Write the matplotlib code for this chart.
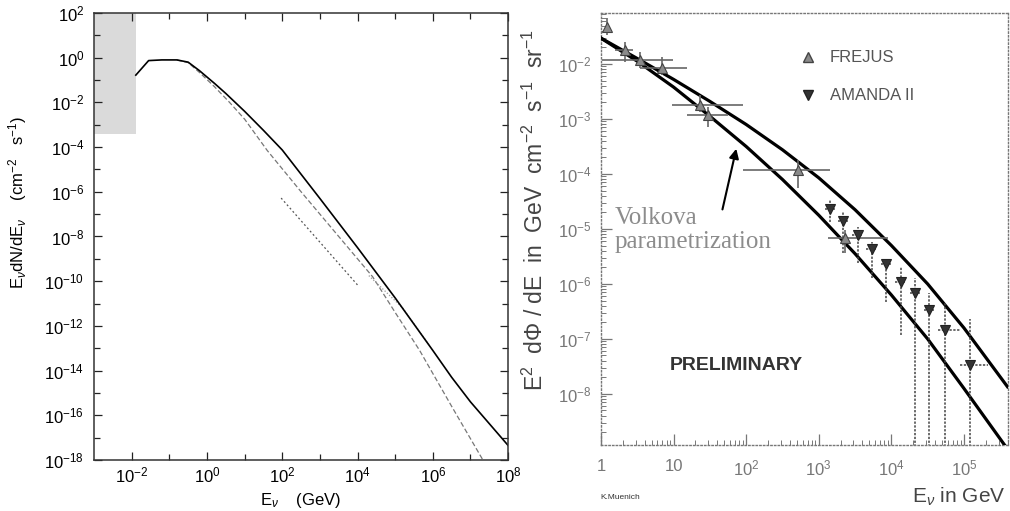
import numpy as np
import matplotlib
matplotlib.use('Agg')
import matplotlib.pyplot as plt
from matplotlib.ticker import FixedLocator, FixedFormatter, LogLocator, NullFormatter

plt.rcParams['font.family'] = ['Liberation Sans', 'DejaVu Sans']
plt.rcParams['mathtext.fontset'] = 'custom'
plt.rcParams['mathtext.rm'] = 'Liberation Sans'
plt.rcParams['mathtext.it'] = 'Liberation Sans:italic'
plt.rcParams['mathtext.bf'] = 'Liberation Sans:bold'

# ---- left panel: atmospheric neutrino spectrum (log10 values)
total_logE = [-1.89, -1.55, -1.2, -0.8, -0.5, -0.2, 0.2, 0.5, 1.0, 1.5, 2.0, 3.0, 4.0, 5.0, 6.0, 6.5, 7.0, 8.0]
total_logF = [-0.78, -0.13, -0.1, -0.1, -0.2, -0.58, -1.15, -1.6, -2.4, -3.25, -4.13, -6.3, -8.5, -10.75, -13.1, -14.3, -15.4, -17.35]
conv_logE = [-0.8, -0.5, -0.2, 0.2, 0.6, 1.0, 1.6, 2.5, 3.5, 4.4, 5.0, 5.65, 6.5, 7.33]
conv_logF = [-0.1, -0.22, -0.66, -1.3, -2.0, -2.75, -4.15, -6.0, -8.0, -9.8, -11.4, -13.1, -15.6, -18.0]
prompt_a_logE = [1.97, 4.0]
prompt_a_logF = [-6.28, -10.17]
prompt_b_logE = [4.3, 5.2, 5.9]
prompt_b_logF = [-9.75, -11.2, -12.85]
shade_E = [1e-3, 1.3e-2]
shade_F = [4e-4, 1e2]

left_xmajor = [1e-2, 1e0, 1e2, 1e4, 1e6, 1e8]
left_xminor = [1e-1, 1e1, 1e3, 1e5, 1e7]
left_ymajor = [10.0 ** k for k in range(2, -19, -2)]
left_yminor = [10.0 ** k for k in range(1, -18, -2)]

# ---- right panel: measured spectra
fr_E = np.array([1.21, 2.14, 3.45, 6.9, 23, 29.7, 516, 2300])
fr_F = np.array([0.047, 0.018, 0.0118, 0.0085, 1.8e-3, 1.18e-3, 1.18e-4, 6.9e-6])
fr_Elo = np.array([1.15, 1.56, 1.03, 3.45, 9.5, 15.3, 90, 1340])
fr_Ehi = np.array([1.27, 2.76, 9.8, 15.3, 90, 56, 1420, 8900])
fr_Flo = np.array([0.034, 0.011, 0.0085, 0.0063, 1.35e-3, 7.1e-4, 5.6e-5, 3.6e-6])
fr_Fhi = np.array([0.069, 0.025, 0.0166, 0.0135, 2.75e-3, 1.66e-3, 1.78e-4, 9.5e-6])

am_E = np.array([1420, 2150, 3470, 5370, 8450, 13500, 21300, 33000, 55000, 120000])
am_F = np.array([2.3e-5, 1.4e-5, 7.8e-6, 4.4e-6, 2.3e-6, 1.1e-6, 6.9e-7, 3.4e-7, 1.45e-7, 3.4e-8])
am_Elo = np.array([1200, 1820, 2900, 4500, 7100, 11300, 18000, 27800, 43600, 87600])
am_Ehi = np.array([1690, 2550, 4100, 6400, 10000, 16000, 25500, 39500, 87600, 214000])
am_Flo = np.array([1.35e-5, 3.6e-6, 2.4e-6, 1.3e-6, 4.7e-7, 1.2e-7, 1e-10, 1e-10, 1e-10, 1e-10])
am_Fhi = np.array([3.4e-5, 2.0e-5, 1.1e-5, 5.8e-6, 2.7e-6, 2.0e-6, 1.3e-6, 6.9e-7, 4.5e-7, 2.3e-7])

volk_hi_logE = [0, 0.5, 1.0, 1.5, 2.0, 2.5, 3.0, 3.5, 4.0, 4.5, 5.0, 5.6]
volk_hi_logF = [-1.53, -1.9, -2.28, -2.68, -3.1, -3.56, -4.07, -4.65, -5.3, -6.0, -6.8, -7.87]
volk_lo_logE = [0, 0.5, 1.0, 1.5, 2.0, 2.5, 3.0, 3.5, 4.0, 4.5, 5.0, 5.56]
volk_lo_logF = [-1.53, -1.95, -2.42, -2.95, -3.5, -4.1, -4.75, -5.45, -6.2, -7.0, -7.9, -8.93]

right_xticks = [1, 10, 1e2, 1e3, 1e4, 1e5]
right_xlabels = ['1', '10', '$10^{2}$', '$10^{3}$', '$10^{4}$', '$10^{5}$']
right_yticks = [1e-2, 1e-3, 1e-4, 1e-5, 1e-6, 1e-7, 1e-8]
right_ylabels = ['$10^{-2}$', '$10^{-3}$', '$10^{-4}$', '$10^{-5}$', '$10^{-6}$', '$10^{-7}$', '$10^{-8}$']

fig = plt.figure(figsize=(10.1, 5.11), dpi=100)

# left panel
ax1 = fig.add_axes([0.0931, 0.0998, 0.41, 0.8748])
ax1.set_xscale('log')
ax1.set_yscale('log')
ax1.set_xlim(1e-3, 1e8)
ax1.set_ylim(1e-18, 1e2)
ax1.fill_between(shade_E, shade_F[0], shade_F[1], facecolor='#dadada', edgecolor='none')
ax1.plot(10 ** np.array(conv_logE), 10 ** np.array(conv_logF), color='#777777', lw=0.9, dashes=(4, 2))
ax1.plot(10 ** np.array(prompt_a_logE), 10 ** np.array(prompt_a_logF), color='#555555', lw=0.9, dashes=(1.5, 2))
ax1.plot(10 ** np.array(prompt_b_logE), 10 ** np.array(prompt_b_logF), color='#999999', lw=0.9, dashes=(1, 1.5))
ax1.plot(10 ** np.array(total_logE), 10 ** np.array(total_logF), color='black', lw=1.2)

ax1.xaxis.set_major_locator(FixedLocator(left_xmajor))
ax1.xaxis.set_minor_locator(FixedLocator(left_xminor))
ax1.yaxis.set_major_locator(FixedLocator(left_ymajor))
ax1.yaxis.set_minor_locator(FixedLocator(left_yminor))
ax1.xaxis.set_minor_formatter(NullFormatter())
ax1.yaxis.set_minor_formatter(NullFormatter())
ax1.tick_params(which='both', direction='in', top=True, right=True, labelsize=12, color='#222222')
ax1.tick_params(which='major', length=6, width=0.9)
ax1.tick_params(which='minor', length=4, width=0.9)
ax1.tick_params(axis='y', pad=7)
ax1.tick_params(axis='x', pad=4)
for sp in ax1.spines.values():
    sp.set_color('#333333')
    sp.set_linewidth(1.1)

fig.text(18 / 1010, 1 - 203 / 511, r'E$_\nu$dN/dE$_\nu$    (cm$^{-2}$   s$^{-1}$)',
         rotation=90, ha='center', va='center', fontsize=12)
fig.text(301 / 1010, 1 - 500 / 511, r'E$_\nu$    (GeV)', ha='center', va='center', fontsize=12)

# right panel
ax2 = fig.add_axes([0.595, 0.1292, 0.403, 0.8454])
ax2.set_xscale('log')
ax2.set_yscale('log')
ax2.set_xlim(1, 4.04e5)
ax2.set_ylim(1.18e-9, 0.0846)

ax2.plot(10 ** np.array(volk_hi_logE), 10 ** np.array(volk_hi_logF), color='black', lw=2.3, zorder=3)
ax2.plot(10 ** np.array(volk_lo_logE), 10 ** np.array(volk_lo_logF), color='black', lw=2.3, zorder=3)

fr = ax2.errorbar(fr_E, fr_F, xerr=[fr_E - fr_Elo, fr_Ehi - fr_E], yerr=[fr_F - fr_Flo, fr_Fhi - fr_F],
                  fmt='^', ms=7, mfc='#8a8a8a', mec='#444444', mew=0.8,
                  ecolor='#666666', elinewidth=1.2, capsize=0, zorder=4)
am = ax2.errorbar(am_E, am_F, xerr=[am_E - am_Elo, am_Ehi - am_E], yerr=[am_F - am_Flo, am_Fhi - am_F],
                  fmt='v', ms=7, mfc='#333333', mec='#222222', mew=0.8,
                  ecolor='#444444', elinewidth=1.1, capsize=0, zorder=4)
for c in am[2]:
    c.set_linestyle((0, (1.5, 1)))

ax2.xaxis.set_major_locator(FixedLocator(right_xticks))
ax2.xaxis.set_major_formatter(FixedFormatter(right_xlabels))
ax2.xaxis.set_minor_locator(LogLocator(base=10, subs=np.arange(2, 10)))
ax2.xaxis.set_minor_formatter(NullFormatter())
ax2.yaxis.set_major_locator(FixedLocator(right_yticks))
ax2.yaxis.set_major_formatter(FixedFormatter(right_ylabels))
ax2.yaxis.set_minor_locator(LogLocator(base=10, subs=np.arange(2, 10)))
ax2.yaxis.set_minor_formatter(NullFormatter())
ax2.tick_params(which='both', direction='in', top=False, right=False,
                color='#777777', labelcolor='#777777', labelsize=12)
ax2.tick_params(which='major', length=8, width=0.9)
ax2.tick_params(which='minor', length=3.5, width=0.7)
ax2.tick_params(axis='x', pad=10)
ax2.tick_params(axis='y', pad=7)
for sp in ax2.spines.values():
    sp.set_color('#777777')
    sp.set_linewidth(1.0)
    sp.set_linestyle(':')

# legend
ax2.plot(0.509, 0.898, marker='^', ms=6.5, mfc='#8a8a8a', mec='#444444', transform=ax2.transAxes, ls='none')
ax2.text(0.563, 0.898, 'FREJUS', transform=ax2.transAxes, fontsize=12, color='#555555', va='center')
ax2.plot(0.509, 0.81, marker='v', ms=6.5, mfc='#333333', mec='#222222', transform=ax2.transAxes, ls='none')
ax2.text(0.563, 0.81, 'AMANDA II', transform=ax2.transAxes, fontsize=12, color='#555555', va='center')

ax2.text(0.034, 0.498, 'Volkova\nparametrization', transform=ax2.transAxes,
         family=['Liberation Serif', 'DejaVu Serif'], fontsize=18, color='#8c8c8c',
         va='center', ha='left', linespacing=1.1)
ax2.annotate('', xy=(0.334, 0.692), xytext=(0.297, 0.539), xycoords='axes fraction',
             arrowprops=dict(arrowstyle='-|>', color='black', lw=1.5, mutation_scale=14))
ax2.text(0.332, 0.185, 'PRELIMINARY', transform=ax2.transAxes, fontsize=14, weight='bold',
         color='#333333', ha='center', va='center')

fig.text(535 / 1010, 1 - 210 / 511, r'E$^2$  d$\Phi$ / dE  in  GeV  cm$^{-2}$  s$^{-1}$  sr$^{-1}$',
         rotation=90, ha='center', va='center', fontsize=16.5, color='#444444')
fig.text(1005 / 1010, 1 - 497 / 511, r'E$_\nu$ in GeV', ha='right', va='center', fontsize=15, color='#444444')
fig.text(600 / 1010, 1 - 497 / 511, 'K.Muenich', fontsize=6, color='#333333', va='center')

fig.savefig('out.png', dpi=100)
